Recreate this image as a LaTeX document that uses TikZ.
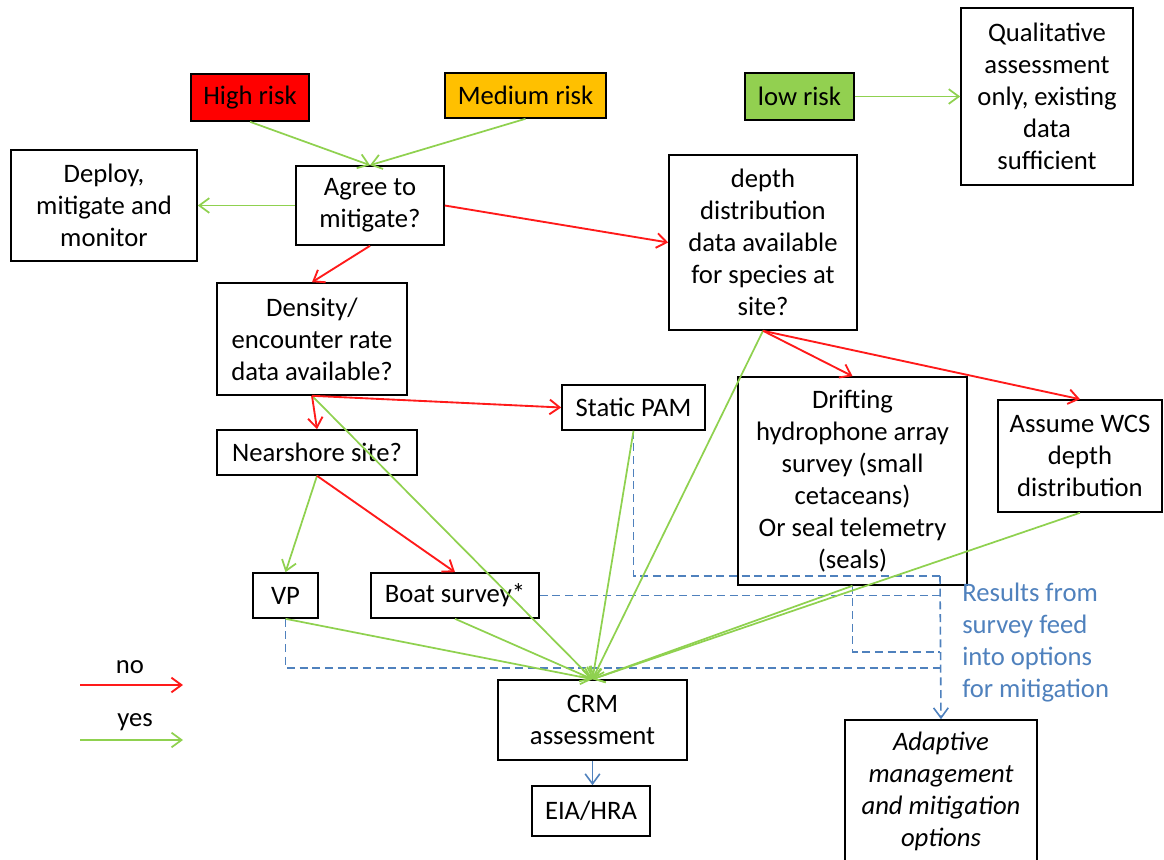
\documentclass[tikz,border=0pt]{standalone}
\usepackage{fontspec}
\setmainfont{Carlito}
\usetikzlibrary{arrows.meta}
\definecolor{rk}{HTML}{FF0000}
\definecolor{mk}{HTML}{FFC000}
\definecolor{lk}{HTML}{92D050}
\definecolor{gl}{HTML}{8FD14F}
\definecolor{rl}{HTML}{FF1A1A}
\definecolor{bl}{HTML}{4F81BD}
\begin{document}
\begin{tikzpicture}[x=0.75pt,y=-0.75pt,
  bx/.style 2 args={draw=black, line width=1.2pt, minimum width=#1*0.75pt, minimum height=#2*0.75pt, inner sep=0pt, align=center, font=\fontsize{20}{24}\selectfont},
  tip/.style={-{Straight Barb[length=7.5pt,width=11pt]}},
  no/.style={draw=rl, line width=1.4pt, tip},
  yes/.style={draw=gl, line width=1.3pt, tip},
  fb/.style={draw=bl, line width=1.2pt, dash pattern=on 6pt off 3.5pt},
  txt/.style={inner sep=0pt, font=\fontsize{20}{24}\selectfont}]
\useasboundingbox (0,0) rectangle (1164,860);
% boxes
\node[bx={118}{47}, fill=rk] (high) at (250,97.5) {High risk};
\node[bx={161}{45}, fill=mk] (med) at (525.5,95.5) {Medium risk};
\node[bx={109}{47}, fill=lk] (low) at (799.5,96.5) {low risk};
\node[bx={172}{177}] (qual) at (1047,96.5) {Qualitative\\assessment\\only, existing\\data\\sufficient};
\node[bx={186}{111}] (deploy) at (104,205.5) {Deploy,\\mitigate and\\monitor};
\node[bx={148}{79}] (agree) at (370,205.5) {Agree to\\mitigate?};
\node[bx={188}{175}] (depth) at (763,242.5) {depth\\distribution\\data available\\for species at\\site?};
\node[bx={190}{112}] (density) at (312,339) {Density/\\encounter rate\\data available?};
\node[bx={143}{45}] (pam) at (633.5,407.5) {Static PAM};
\node[bx={229}{208}] (drift) at (852.5,481) {Drifting\\hydrophone array\\survey (small\\cetaceans)\\Or seal telemetry\\(seals)};
\node[bx={164}{112}] (wcs) at (1080,456) {Assume WCS\\depth\\distribution};
\node[bx={200}{45}] (near) at (317,452.5) {Nearshore site?};
\node[bx={65}{45}] (vp) at (285.5,595.5) {VP};
\node[bx={168}{45}] (boat) at (455,595.5) {Boat survey*};
\node[bx={189}{80}] (crm) at (592.5,720) {CRM\\assessment};
\node[bx={118}{50}] (eia) at (591,811) {EIA/HRA};
\node[bx={192}{142}, font=\fontsize{20}{24}\selectfont\itshape] (adapt) at (941,791) {Adaptive\\management\\and mitigation\\options};
\node[txt, anchor=north west, align=left, text=bl] (res) at (962,583) {Results from\\survey feed\\into options\\for mitigation};
% legend
\node[txt] (nolab) at (130,667) {no};
\node[txt] (yeslab) at (135,722) {yes};
\coordinate (n1) at (80,685);
\coordinate (n2) at (183,685);
\coordinate (y1) at (80,740);
\coordinate (y2) at (183,740);
\draw[no] (n1) -- (n2);
\draw[yes] (y1) -- (y2);
% dashed feedback
\coordinate (j1) at (940,576);
\coordinate (j2) at (940,595.5);
\coordinate (j3) at (940,652);
\coordinate (j4) at (940,668);
\draw[fb] (pam.south) |- (j1);
\draw[fb] (boat.east) -- (j2);
\draw[fb] (drift.south) |- (j3);
\draw[fb] (vp.south) |- (j4);
\draw[fb, tip] (j1) -- (adapt.north);
\draw[draw=bl, line width=1.2pt, tip] (crm.south) -- (eia.north -| crm.south);
% yes arrows
\draw[yes] (high.south) -- (agree.north);
\draw[yes] (med.south) -- (agree.north);
\draw[yes] (agree.west) -- (deploy.east);
\draw[yes] (low.east) -- (qual.west);
\draw[yes] (density.south) -- (crm.north);
\draw[yes] (near.south) -- (vp.north);
\draw[yes] (vp.south) -- (crm.north);
\draw[yes] (boat.south) -- (crm.north);
\draw[yes] (pam.south) -- (crm.north);
\draw[yes] (depth.south) -- (crm.north);
\draw[yes] (drift.south) -- (crm.north);
\draw[yes] (wcs.south) -- (crm.north);
% no arrows
\draw[no] (agree.south) -- (density.north);
\draw[no] (agree.east) -- (depth.west);
\draw[no] (density.south) -- (near.north);
\draw[no] (density.south) -- (pam.west);
\draw[no] (near.south) -- (boat.north);
\draw[no] (depth.south) -- (drift.north);
\draw[no] (depth.south) -- (wcs.north);
\end{tikzpicture}
\end{document}
